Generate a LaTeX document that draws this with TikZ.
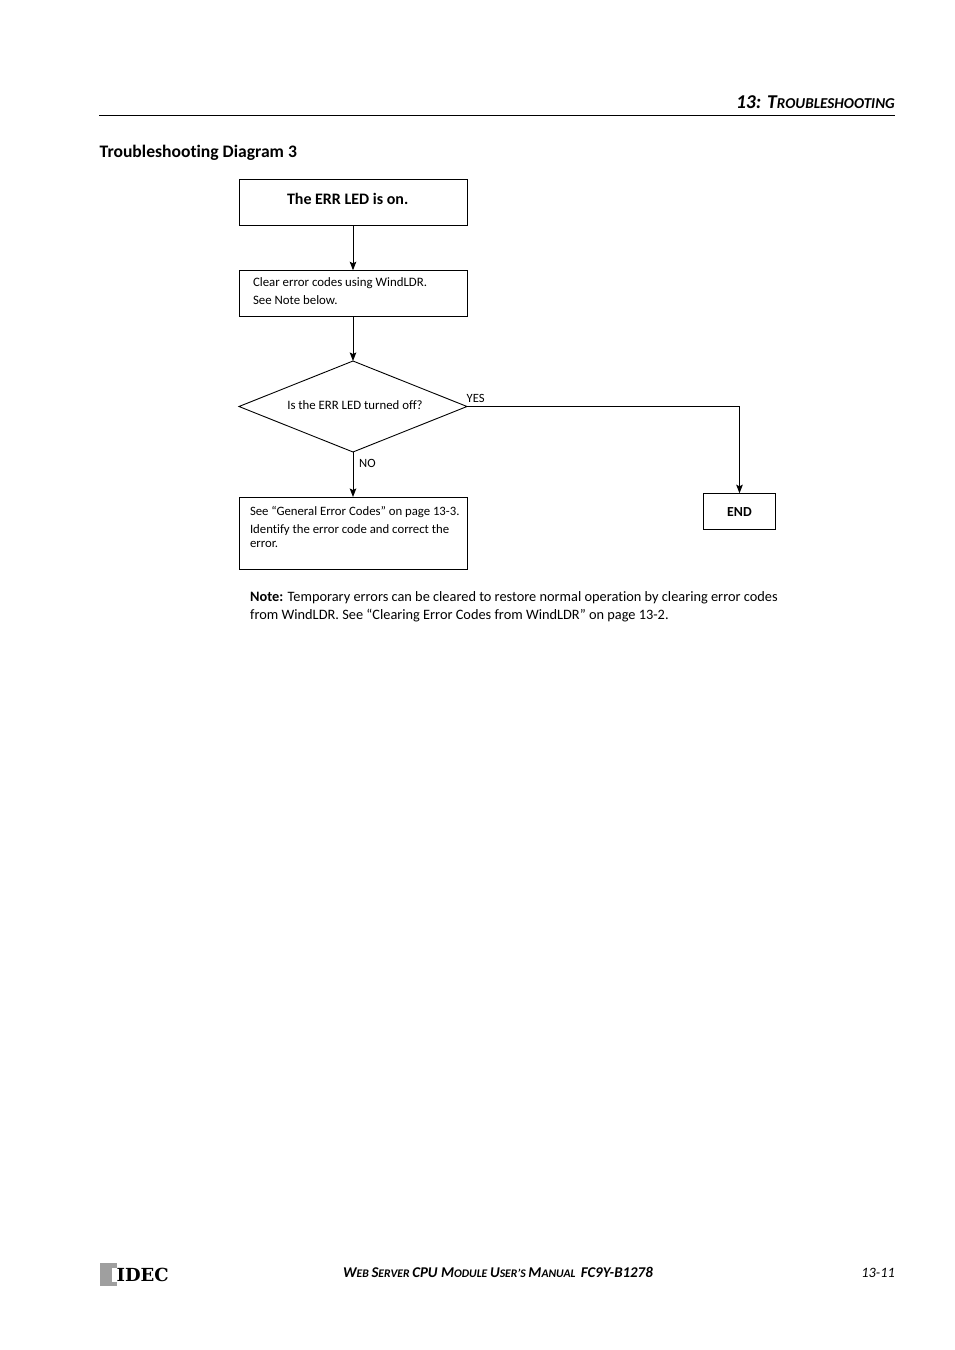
\documentclass[tikz,border=0pt]{standalone}
\usepackage{fontspec}
\setmainfont[Ligatures=NoCommon]{Carlito}
\newfontfamily\logofont{DejaVu Serif}
\usetikzlibrary{arrows.meta,shapes.geometric}
\newcommand{\footcap}[1]{{\fontsize{14.9}{16}\selectfont #1}}
\tikzset{
    flowbox/.style={draw=black, rectangle, line width=0.9pt, inner sep=0pt, outer sep=0pt, font=\fontsize{12.85}{18}\selectfont},
    flowquery/.style={draw=black, diamond, line width=0.9pt, aspect=2.5, inner sep=0pt, outer sep=0pt, minimum width=228pt, minimum height=91pt, text depth=2pt, font=\fontsize{12.8}{14}\selectfont},
    flowline/.style={line width=1pt, -{Stealth[length=8.5pt, width=6.5pt, inset=1.5pt]}},
    smalltext/.style={inner sep=0pt, font=\fontsize{12.6}{14}\selectfont},
    pagetext/.style={inner sep=0pt, font=\fontsize{14.35}{18}\selectfont},
    footertext/.style={inner sep=0pt, font=\fontsize{11.65}{16}\selectfont\bfseries\itshape}
}
\begin{document}
\begin{tikzpicture}[x=1pt, y=-1pt]
    \useasboundingbox (0,0) rectangle (954,1350);
    \fill[white] (0,0) rectangle (954,1350);

    \node[anchor=base east, inner sep=0pt, font=\fontsize{15.1}{18}\selectfont\bfseries\itshape] (chapter) at (895,108) {{\fontsize{19.6}{18}\selectfont 13: T}ROUBLESHOOTING};
    \draw[line width=0.9pt] (99,115.5) -- (895,115.5);
    \node[anchor=base west, inner sep=0pt, font=\fontsize{17.6}{18}\selectfont\bfseries] (title) at (99.5,157) {Troubleshooting Diagram 3};

    \node[flowbox, minimum width=228pt, minimum height=46.5pt, text width=200pt, text depth=8pt, align=flush left, font=\fontsize{16}{18}\selectfont\bfseries] (start) at (353,202.5) {\hspace*{34pt}The ERR LED is on.};
    \node[flowbox, minimum width=228pt, minimum height=46.5pt, text width=200pt, text depth=22pt, align=flush left] (clear) at (353,293.5) {Clear error codes using WindLDR.\\See Note below.};
    \node[flowquery] (query) at (353,406.5) {\hspace*{4pt}Is the ERR LED turned off?};
    \node[flowbox, minimum width=228pt, minimum height=72pt, text width=206pt, align=flush left, font=\fontsize{12.75}{18}\selectfont] (fix) at (353,533) {\mbox{See “General Error Codes” on page 13-3.}\\Identify the error code and correct the\\[-4pt]error.\\[-6pt]~};
    \node[flowbox, minimum width=72.5pt, minimum height=36.5pt, text height=10pt, font=\fontsize{13.8}{14}\selectfont\bfseries] (done) at (739.5,511.5) {END};

    \draw[flowline] (start) -- (clear);
    \draw[flowline] (clear) -- (query);
    \draw[flowline] (query) -- (fix);
    \draw[flowline] (query.east) -| (done);

    \node[smalltext, anchor=base west] (yes) at (466.5,402) {YES};
    \node[smalltext, anchor=base west] (no) at (359,467) {NO};

    \node[pagetext, anchor=north west, text width=540pt, align=flush left] (note) at (250,591) {\textbf{Note:} Temporary errors can be cleared to restore normal operation by clearing error codes\\from WindLDR. See “Clearing Error Codes from WindLDR” on page 13-2.};

    \fill[gray!75] (100,1263) rectangle (117,1286);
    \fill[white] (112,1268) rectangle (117,1282);
    \node[anchor=base west, inner sep=0pt, font=\logofont\bfseries\fontsize{18}{18}\selectfont] (logo) at (116.5,1281.7) {IDEC};
    \node[footertext, anchor=base west] (manual) at (343,1277) {\footcap{W}EB \footcap{S}ERVER \footcap{CPU M}ODULE \footcap{U}SER’S \footcap{M}ANUAL\ \ \footcap{FC9Y-B1278}};
    \node[inner sep=0pt, anchor=base east, font=\fontsize{14.3}{16}\selectfont\itshape] (pageno) at (895,1277) {13-11};
\end{tikzpicture}
\end{document}
